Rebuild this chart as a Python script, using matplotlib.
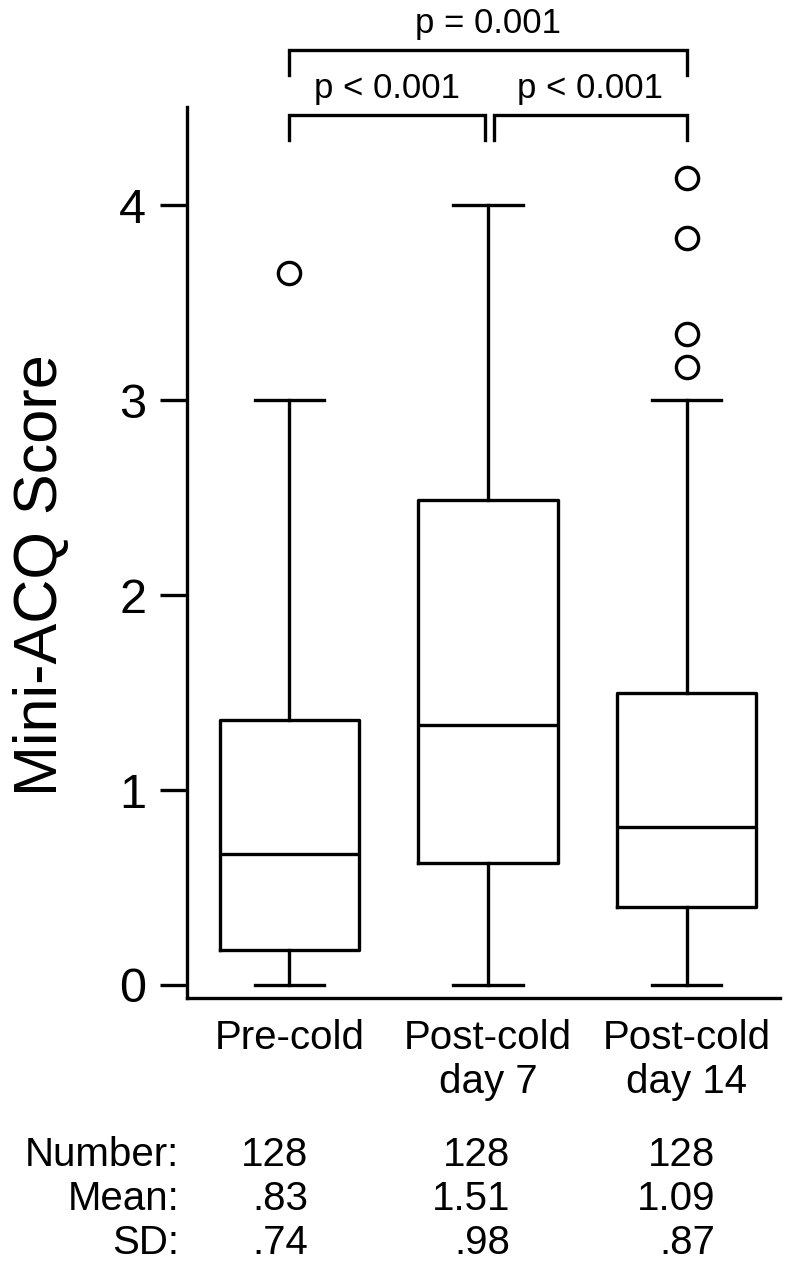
import matplotlib
matplotlib.use("Agg")
import matplotlib.pyplot as plt

plt.rcParams['font.family'] = ['Liberation Sans', 'DejaVu Sans']

# ---- data ----
groups = ["Pre-cold", "Post-cold\nday 7", "Post-cold\nday 14"]
whis_lo = [0.0, 0.0, 0.0]
q1 = [0.18, 0.625, 0.40]
medians = [0.67, 1.333, 0.81]
q3 = [1.36, 2.487, 1.50]
whis_hi = [3.0, 4.0, 3.0]
fliers = [[3.65], [], [4.14, 3.83, 3.34, 3.17]]

numbers = ["128", "128", "128"]
means = [".83", "1.51", "1.09"]
sds = [".74", ".98", ".87"]

p_labels = ["p < 0.001", "p < 0.001", "p = 0.001"]
yticks = [0, 1, 2, 3, 4]

# ---- figure ----
fig = plt.figure(figsize=(8, 12.84), dpi=100)
ax = fig.add_axes([0.234, 0.2227, 0.975 - 0.234, 0.9167 - 0.2227])

positions = [1, 2, 3]
stats = []
for i in range(3):
    stats.append(dict(whislo=whis_lo[i], q1=q1[i], med=medians[i], q3=q3[i],
                      whishi=whis_hi[i], fliers=fliers[i], label=groups[i]))

lw = 2.4
ax.bxp(stats, positions=positions, widths=0.70, showfliers=True,
       boxprops=dict(color='black', linewidth=lw),
       medianprops=dict(color='black', linewidth=lw),
       whiskerprops=dict(color='black', linewidth=lw),
       capprops=dict(color='black', linewidth=lw),
       flierprops=dict(marker='o', markerfacecolor='none', markeredgecolor='black',
                       markersize=16, markeredgewidth=2.4, linestyle='none'))

ax.set_xlim(0.486, 3.47)
ax.set_ylim(-0.067, 4.503)

for s in ['top', 'right']:
    ax.spines[s].set_visible(False)
for s in ['left', 'bottom']:
    ax.spines[s].set_linewidth(lw)

ax.set_yticks(yticks)
ax.set_yticklabels([str(t) for t in yticks])
ax.tick_params(axis='y', length=19.5, width=lw, pad=10, labelsize=35)
ax.set_xticks(positions)
ax.set_xticklabels(groups)
ax.tick_params(axis='x', length=0, pad=15, labelsize=29)

ax.set_ylabel("Mini-ACQ Score", fontsize=44)
ax.yaxis.set_label_coords(-0.197, 0.475)

# ---- significance brackets ----
def bracket(x1, x2, ytop, ybot, text, ytext):
    ax.plot([x1, x1, x2, x2], [ybot, ytop, ytop, ybot], color='black',
            linewidth=lw, clip_on=False, solid_joinstyle='miter')
    ax.text((x1 + x2) / 2, ytext, text, ha='center', va='baseline',
            fontsize=25, clip_on=False)

bracket(1.0, 1.985, 4.462, 4.333, p_labels[0], 4.549)
bracket(2.03, 3.0, 4.462, 4.333, p_labels[1], 4.549)
bracket(1.0, 3.0, 4.795, 4.667, p_labels[2], 4.882)

# ---- summary table ----
row_names = ["Number:", "Mean:", "SD:"]
row_vals = [numbers, means, sds]
row_y = [0.1005, 0.0662, 0.0319]
col_x = [0.385, 0.6375, 0.894]
for name, vals, y in zip(row_names, row_vals, row_y):
    fig.text(0.224, y, name, ha='right', va='center', fontsize=29)
    for v, x in zip(vals, col_x):
        fig.text(x, y, v, ha='right', va='center', fontsize=29)

fig.savefig("out.png", dpi=100, facecolor='white')
